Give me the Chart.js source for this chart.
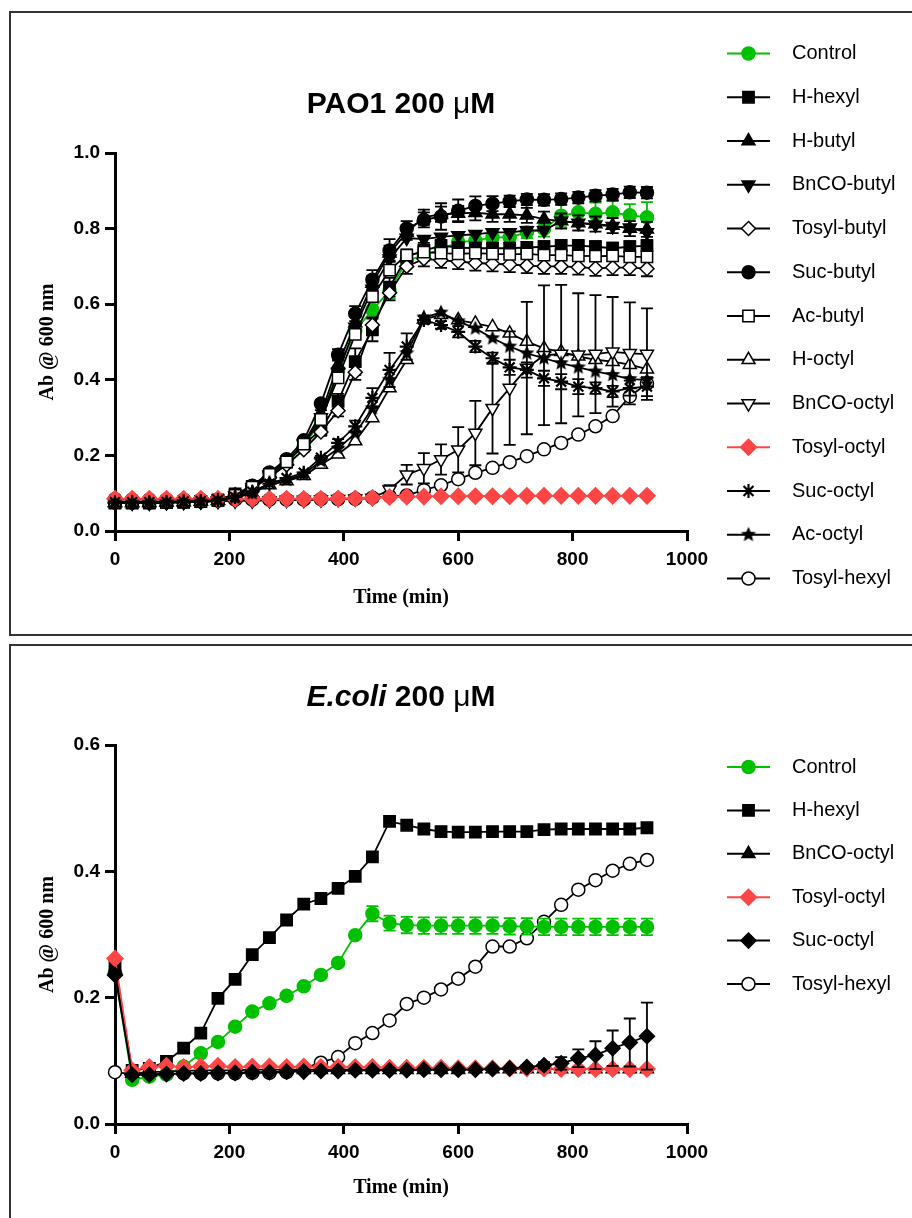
<!DOCTYPE html>
<html>
<head>
<meta charset="utf-8">
<script src="https://cdn.jsdelivr.net/npm/chart.js@4.4.1/dist/chart.umd.min.js"></script>
<style>
  body { margin: 0; background: #fff; width: 912px; height: 1218px; overflow: hidden; position: relative; }
  .box { position: absolute; border: 2px solid #333; border-right: none; }
  canvas { position: absolute; left: 0; }
</style>
</head>
<body>
<div class="box" style="left:9px; top:11px; width:930px; height:621px;"></div>
<div class="box" style="left:9px; top:644px; width:930px; height:600px; border-bottom:none;"></div>
<canvas id="pao1" width="912" height="640" style="top:0"></canvas>
<canvas id="ecoli" width="912" height="578" style="top:640px"></canvas>

<script>
// sampling times (min)
const times = [0,30,60,90,120,150,180,210,240,270,300,330,360,390,420,450,480,510,540,570,600,630,660,690,720,750,780,810,840,870,900,930];
const xTicks = [0, 200, 400, 600, 800, 1000];

// ---- PAO1 200 uM ----
const paoControl    = [0.076,0.075,0.075,0.076,0.077,0.078,0.080,0.092,0.112,0.145,0.180,0.225,0.290,0.425,0.530,0.585,0.635,0.715,0.730,0.745,0.764,0.768,0.777,0.777,0.790,0.799,0.834,0.843,0.839,0.843,0.835,0.830];
const paoControlErr = [0,0,0,0,0,0,0,0,0,0,0.005,0.008,0.01,0.01,0.015,0.02,0.02,0.015,0.015,0.015,0.015,0.015,0.015,0.015,0.015,0.02,0.03,0.035,0.03,0.03,0.03,0.04];
const paoHhexyl     = [0.074,0.074,0.074,0.075,0.076,0.078,0.082,0.098,0.118,0.150,0.182,0.228,0.268,0.343,0.448,0.532,0.645,0.725,0.742,0.755,0.750,0.748,0.748,0.748,0.750,0.752,0.755,0.755,0.752,0.748,0.752,0.755];
const paoHhexylErr  = [0,0,0,0,0,0,0,0,0,0,0,0.005,0.01,0.02,0.035,0.03,0.025,0.02,0.02,0.015,0.015,0.015,0.015,0.015,0.015,0.015,0.015,0.015,0.015,0.015,0.015,0.015];
const paoHbutyl     = [0.075,0.075,0.075,0.076,0.077,0.078,0.081,0.094,0.116,0.150,0.185,0.232,0.310,0.440,0.550,0.655,0.735,0.790,0.830,0.838,0.840,0.842,0.838,0.838,0.835,0.825,0.820,0.815,0.812,0.808,0.800,0.798];
const paoHbutylErr  = [0,0,0,0,0,0,0,0,0,0,0,0.005,0.01,0.015,0.02,0.02,0.02,0.02,0.02,0.02,0.02,0.02,0.02,0.02,0.02,0.02,0.02,0.02,0.02,0.02,0.02,0.02];
const paoBnCObutyl  = [0.075,0.075,0.075,0.076,0.077,0.078,0.081,0.094,0.115,0.148,0.182,0.230,0.300,0.420,0.540,0.640,0.720,0.775,0.772,0.778,0.782,0.785,0.790,0.790,0.795,0.795,0.820,0.815,0.810,0.806,0.802,0.790];
const paoTosylbutyl = [0.074,0.074,0.074,0.075,0.076,0.077,0.080,0.092,0.112,0.142,0.175,0.215,0.262,0.318,0.420,0.545,0.630,0.700,0.720,0.716,0.713,0.709,0.707,0.705,0.702,0.700,0.700,0.698,0.695,0.697,0.697,0.694];
const paoTosylbutylErr = [0,0,0,0,0,0,0,0,0,0,0,0.005,0.01,0.015,0.02,0.02,0.02,0.02,0.02,0.02,0.02,0.02,0.02,0.02,0.02,0.02,0.02,0.02,0.02,0.02,0.02,0.02];
const paoSucbutyl   = [0.078,0.076,0.076,0.077,0.078,0.079,0.082,0.096,0.120,0.155,0.190,0.240,0.337,0.466,0.575,0.665,0.742,0.800,0.823,0.832,0.847,0.860,0.866,0.872,0.877,0.876,0.878,0.882,0.887,0.890,0.896,0.895];
const paoSucbutylErr = [0,0,0,0,0,0,0,0,0,0,0,0.005,0.01,0.015,0.02,0.025,0.03,0.02,0.02,0.035,0.03,0.025,0.02,0.015,0.015,0.015,0.015,0.015,0.015,0.015,0.015,0.015];
const paoAcbutyl    = [0.075,0.075,0.075,0.076,0.077,0.078,0.081,0.094,0.116,0.150,0.183,0.230,0.295,0.405,0.520,0.620,0.690,0.730,0.738,0.735,0.733,0.735,0.733,0.732,0.733,0.730,0.730,0.728,0.727,0.728,0.725,0.725];
const paoHoctyl     = [0.075,0.075,0.075,0.076,0.077,0.078,0.080,0.088,0.100,0.122,0.132,0.146,0.176,0.203,0.238,0.299,0.378,0.453,0.560,0.572,0.558,0.549,0.540,0.523,0.501,0.483,0.474,0.462,0.453,0.448,0.440,0.428];
const paoBnCOoctyl  = [0.075,0.075,0.075,0.076,0.077,0.078,0.079,0.080,0.080,0.081,0.082,0.082,0.083,0.084,0.085,0.087,0.109,0.149,0.166,0.189,0.215,0.259,0.325,0.378,0.431,0.465,0.468,0.466,0.468,0.474,0.470,0.468];
const paoBnCOoctylErr = [0,0,0,0,0,0,0,0,0,0,0,0,0,0,0,0.005,0.012,0.026,0.04,0.04,0.06,0.085,0.12,0.15,0.175,0.185,0.183,0.163,0.156,0.145,0.135,0.121];
const paoTosyloctyl = [0.085,0.085,0.085,0.085,0.085,0.085,0.085,0.085,0.085,0.085,0.085,0.085,0.085,0.086,0.086,0.088,0.090,0.091,0.091,0.092,0.092,0.092,0.092,0.092,0.093,0.093,0.093,0.093,0.093,0.093,0.093,0.093];
const paoSucoctyl   = [0.076,0.076,0.076,0.077,0.078,0.079,0.082,0.090,0.104,0.125,0.140,0.154,0.194,0.233,0.277,0.352,0.426,0.488,0.558,0.545,0.527,0.488,0.457,0.433,0.426,0.404,0.395,0.382,0.378,0.369,0.378,0.382];
const paoSucoctylErr = [0,0,0,0,0,0,0,0,0,0,0,0,0.005,0.01,0.015,0.026,0.045,0.035,0.01,0.01,0.015,0.015,0.015,0.02,0.02,0.02,0.02,0.02,0.015,0.015,0.02,0.025];
const paoAcoctyl    = [0.075,0.075,0.075,0.076,0.077,0.078,0.081,0.088,0.100,0.128,0.135,0.150,0.185,0.218,0.258,0.325,0.400,0.470,0.565,0.578,0.555,0.536,0.510,0.488,0.470,0.457,0.444,0.433,0.422,0.413,0.402,0.400];
const paoTosylhexyl = [0.084,0.083,0.083,0.083,0.083,0.083,0.083,0.083,0.083,0.083,0.083,0.083,0.084,0.084,0.085,0.088,0.092,0.094,0.108,0.121,0.137,0.154,0.167,0.182,0.198,0.216,0.233,0.255,0.277,0.304,0.356,0.390];

// ---- E.coli 200 uM ----
const ecoControl    = [0.240,0.070,0.075,0.078,0.091,0.112,0.130,0.154,0.178,0.191,0.203,0.218,0.236,0.255,0.299,0.333,0.318,0.315,0.314,0.314,0.314,0.314,0.314,0.313,0.313,0.312,0.312,0.312,0.312,0.312,0.312,0.312];
const ecoControlErr = [0,0,0,0,0,0,0,0,0,0,0,0,0,0.005,0.005,0.012,0.012,0.013,0.013,0.013,0.013,0.013,0.013,0.013,0.013,0.013,0.013,0.013,0.013,0.013,0.013,0.013];
const ecoHhexyl     = [0.250,0.085,0.088,0.099,0.120,0.144,0.199,0.229,0.268,0.295,0.323,0.348,0.357,0.373,0.392,0.423,0.479,0.473,0.467,0.463,0.462,0.462,0.463,0.463,0.463,0.466,0.467,0.467,0.467,0.467,0.467,0.469];
const ecoBnCOoctyl  = [0.245,0.080,0.082,0.083,0.084,0.085,0.085,0.085,0.086,0.086,0.086,0.086,0.086,0.086,0.086,0.086,0.086,0.086,0.086,0.086,0.086,0.087,0.087,0.087,0.087,0.087,0.087,0.087,0.087,0.087,0.087,0.087];
const ecoTosyloctyl = [0.262,0.085,0.090,0.092,0.090,0.091,0.092,0.090,0.091,0.091,0.090,0.091,0.090,0.090,0.090,0.090,0.089,0.089,0.089,0.089,0.088,0.088,0.088,0.088,0.088,0.088,0.087,0.087,0.087,0.087,0.087,0.087];
const ecoSucoctyl   = [0.236,0.078,0.078,0.079,0.080,0.080,0.081,0.081,0.082,0.082,0.083,0.083,0.084,0.084,0.085,0.085,0.085,0.085,0.086,0.086,0.086,0.086,0.087,0.088,0.090,0.093,0.096,0.104,0.109,0.120,0.129,0.139];
const ecoSucoctylErr = [0,0,0,0,0,0,0,0,0,0,0,0,0,0,0,0,0,0,0,0,0,0,0,0,0.003,0.005,0.01,0.014,0.022,0.028,0.038,0.053];
const ecoTosylhexyl = [0.082,0.079,0.079,0.079,0.080,0.080,0.080,0.080,0.081,0.081,0.082,0.088,0.097,0.106,0.128,0.144,0.164,0.190,0.200,0.213,0.230,0.249,0.281,0.281,0.294,0.320,0.347,0.371,0.386,0.401,0.412,0.418];

const GREEN = '#00c000';
const RED = '#ff4545';
const SANS = '"Liberation Sans", Arial, sans-serif';
const SERIF = '"Liberation Serif", "Times New Roman", serif';

// filled five-point star marker (Ac-octyl)
function starMarker(r, color) {
  const c = document.createElement('canvas');
  const s = Math.ceil(r * 2 + 2);
  c.width = c.height = s;
  const g = c.getContext('2d');
  g.fillStyle = color;
  g.beginPath();
  for (let k = 0; k < 10; k++) {
    const rr = k % 2 ? r * 0.45 : r;
    const a = -Math.PI / 2 + k * Math.PI / 5;
    g.lineTo(s / 2 + rr * Math.cos(a), s / 2 + rr * Math.sin(a));
  }
  g.closePath();
  g.fill();
  return c;
}

function series(label, values, errs, color, style, fill, radius, rotation, markerWidth) {
  return {
    label: label,
    data: values.map((v, i) => ({ x: times[i], y: v })),
    errors: errs,
    borderColor: color,
    backgroundColor: fill,
    borderWidth: 1.8,
    pointStyle: style,
    pointRotation: rotation || 0,
    pointRadius: radius,
    pointBackgroundColor: fill,
    pointBorderColor: color,
    pointBorderWidth: markerWidth || 1.5,
    clip: false
  };
}

// error bars drawn under each dataset's own markers
const errorBarPlugin = {
  id: 'errorBars',
  beforeDatasetDraw(chart, args) {
    const ds = chart.data.datasets[args.index];
    if (!ds.errors) return;
    const ys = chart.scales.y;
    const ctx = chart.ctx;
    ctx.save();
    ctx.strokeStyle = ds.borderColor;
    ctx.lineWidth = 1.8;
    args.meta.data.forEach((pt, j) => {
      const e = ds.errors[j];
      if (!e) return;
      const v = ds.data[j].y;
      const yt = ys.getPixelForValue(v + e);
      const yb = ys.getPixelForValue(v - e);
      ctx.beginPath();
      ctx.moveTo(pt.x, yt); ctx.lineTo(pt.x, yb);
      ctx.moveTo(pt.x - 6, yt); ctx.lineTo(pt.x + 6, yt);
      ctx.moveTo(pt.x - 6, yb); ctx.lineTo(pt.x + 6, yb);
      ctx.stroke();
    });
    ctx.restore();
  }
};

// legend at the right: line + marker + label
const sideLegend = {
  id: 'sideLegend',
  afterDraw(chart, args, opts) {
    const ctx = chart.ctx;
    chart.data.datasets.forEach((ds, i) => {
      const y = opts.top + i * opts.step;
      ctx.save();
      ctx.strokeStyle = ds.borderColor;
      ctx.lineWidth = 2;
      ctx.beginPath();
      ctx.moveTo(727, y); ctx.lineTo(770, y);
      ctx.stroke();
      ctx.fillStyle = ds.pointBackgroundColor;
      ctx.lineWidth = ds.pointBorderWidth;
      Chart.helpers.drawPoint(ctx, {
        pointStyle: ds.pointStyle, rotation: ds.pointRotation,
        radius: ds.pointRadius, borderWidth: ds.pointBorderWidth
      }, 748.5, y);
      ctx.fillStyle = '#000';
      ctx.font = '20px ' + SANS;
      ctx.textBaseline = 'middle';
      ctx.textAlign = 'left';
      ctx.fillText(ds.label, 792, y);
      ctx.restore();
    });
  }
};

// panel title with mixed styles, centred over the plot area
const panelTitle = {
  id: 'panelTitle',
  afterDraw(chart, args, opts) {
    const ctx = chart.ctx;
    ctx.save();
    ctx.fillStyle = '#000';
    ctx.textBaseline = 'middle';
    ctx.textAlign = 'left';
    let total = 0;
    const widths = opts.parts.map(p => { ctx.font = p.font; const w = ctx.measureText(p.text).width; total += w; return w; });
    let x = (chart.chartArea.left + chart.chartArea.right) / 2 - total / 2;
    opts.parts.forEach((p, i) => { ctx.font = p.font; ctx.fillText(p.text, x, opts.y); x += widths[i]; });
    ctx.restore();
  }
};

function makeChart(id, datasets, yMax, pad, xHeight, titleParts, titleY, legendTop, legendStep) {
  const tickFont = { family: SANS, weight: 'bold', size: 19 };
  const axisTitleFont = { family: SERIF, weight: 'bold', size: 20 };
  return new Chart(document.getElementById(id), {
    type: 'line',
    data: { datasets: datasets },
    plugins: [errorBarPlugin, sideLegend, panelTitle],
    options: {
      responsive: false,
      animation: false,
      events: [],
      layout: { padding: pad },
      plugins: {
        legend: { display: false },
        tooltip: { enabled: false },
        sideLegend: { top: legendTop, step: legendStep },
        panelTitle: { parts: titleParts, y: titleY }
      },
      scales: {
        x: {
          type: 'linear', min: 0, max: 1000,
          afterBuildTicks: s => { s.ticks = xTicks.map(v => ({ value: v })); },
          ticks: { color: '#000', font: tickFont, padding: 7, maxRotation: 0, callback: v => String(v) },
          grid: { drawOnChartArea: false, drawTicks: true, tickLength: 10, color: '#000', lineWidth: 3 },
          border: { color: '#000', width: 3 },
          title: { display: true, text: 'Time (min)', color: '#000', font: axisTitleFont },
          afterFit: s => { s.height = xHeight; }
        },
        y: {
          type: 'linear', min: 0, max: yMax,
          ticks: { stepSize: 0.2, color: '#000', font: tickFont, padding: 5, callback: v => v.toFixed(1) },
          grid: { drawOnChartArea: false, drawTicks: true, tickLength: 10, color: '#000', lineWidth: 3 },
          border: { color: '#000', width: 3 },
          title: { display: true, text: 'Ab @ 600 nm', color: '#000', font: axisTitleFont },
          afterFit: s => { s.width = 83; }
        }
      }
    }
  });
}

const star = starMarker(8, '#000');

const paoSets = [
  series('Control', paoControl, paoControlErr, GREEN, 'circle', GREEN, 6.5),
  series('H-hexyl', paoHhexyl, paoHhexylErr, '#000', 'rect', '#000', 8),
  series('H-butyl', paoHbutyl, paoHbutylErr, '#000', 'triangle', '#000', 7.5),
  series('BnCO-butyl', paoBnCObutyl, null, '#000', 'triangle', '#000', 7.5, 180),
  series('Tosyl-butyl', paoTosylbutyl, paoTosylbutylErr, '#000', 'rectRot', '#fff', 7),
  series('Suc-butyl', paoSucbutyl, paoSucbutylErr, '#000', 'circle', '#000', 6.5),
  series('Ac-butyl', paoAcbutyl, null, '#000', 'rect', '#fff', 8),
  series('H-octyl', paoHoctyl, null, '#000', 'triangle', '#fff', 7.5),
  series('BnCO-octyl', paoBnCOoctyl, paoBnCOoctylErr, '#000', 'triangle', '#fff', 7.5, 180),
  series('Tosyl-octyl', paoTosyloctyl, null, RED, 'rectRot', RED, 8),
  series('Suc-octyl', paoSucoctyl, paoSucoctylErr, '#000', 'star', '#000', 7, 0, 2.2),
  series('Ac-octyl', paoAcoctyl, null, '#000', star, '#000', 8),
  series('Tosyl-hexyl', paoTosylhexyl, null, '#000', 'circle', '#fff', 6.5)
];

const ecoSets = [
  series('Control', ecoControl, ecoControlErr, GREEN, 'circle', GREEN, 6.5),
  series('H-hexyl', ecoHhexyl, null, '#000', 'rect', '#000', 8),
  series('BnCO-octyl', ecoBnCOoctyl, null, '#000', 'triangle', '#000', 7.5),
  series('Tosyl-octyl', ecoTosyloctyl, null, RED, 'rectRot', RED, 8),
  series('Suc-octyl', ecoSucoctyl, ecoSucoctylErr, '#000', 'rectRot', '#000', 7.5),
  series('Tosyl-hexyl', ecoTosylhexyl, null, '#000', 'circle', '#fff', 6.5)
];

// later series drawn on top, open circles at the back
[paoSets, ecoSets].forEach(sets => sets.forEach((d, i) => { d.order = d.label === 'Tosyl-hexyl' ? 50 : -i; }));

makeChart('pao1', paoSets, 1.0, { left: 32, top: 153, right: 225, bottom: 26 }, 83,
  [{ text: 'PAO1 200 ', font: 'bold 30px ' + SANS }, { text: 'μ', font: '30px ' + SANS }, { text: 'M', font: 'bold 30px ' + SANS }],
  105, 53.5, 43.75);

makeChart('ecoli', ecoSets, 0.6, { left: 32, top: 105, right: 225, bottom: 14 }, 80,
  [{ text: 'E.coli', font: 'italic bold 30px ' + SANS }, { text: ' 200 ', font: 'bold 30px ' + SANS }, { text: 'μ', font: '30px ' + SANS }, { text: 'M', font: 'bold 30px ' + SANS }],
  58, 127, 43.4);
</script>
</body>
</html>
